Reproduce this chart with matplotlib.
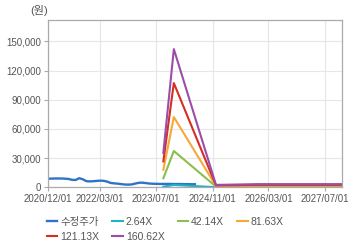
import matplotlib
matplotlib.use('Agg')
import matplotlib.pyplot as plt
import numpy as np
import pandas as pd

plt.rcParams['font.family'] = ['Liberation Sans', 'Noto Sans CJK KR', 'DejaVu Sans']

# adjusted price, monthly
price_dates = pd.date_range('2020-12-01', '2024-06-01', freq='MS')
price = [8700, 8900, 9000, 9000, 9000, 8800, 8500, 7600, 7500, 9300, 8200, 6300,
         6000, 6200, 6500, 6800, 6600, 5800, 4400, 4000, 3700, 3200, 2800, 2700,
         2900, 3800, 4600, 4700, 4300, 3800, 3600, 3500, 3400, 3400, 3400, 3400,
         3300, 3300, 3300, 3200, 3200, 3100, 3100]

# PER band
band_dates = pd.to_datetime(['2023-09-01', '2023-12-01', '2024-12-01',
                             '2025-12-01', '2026-12-01', '2027-12-01'])
eps = [220, 885, 15, 20, 20, 20]
multiples = [2.64, 42.14, 81.63, 121.13, 160.62]
band_labels = ['2.64X', '42.14X', '81.63X', '121.13X', '160.62X']

price_color = '#2f74c4'
band_colors = ['#1fb2c8', '#8cbd4e', '#f6a83c', '#d32f25', '#9b4ea8']

fig = plt.figure(figsize=(3.6, 2.48), dpi=100)
ax = fig.add_axes([0.1325, 0.245, 0.8185, 0.674])

lines = {}
lines['수정주가'], = ax.plot(price_dates, price, color=price_color, lw=1.7)
for m, lab, c in zip(multiples, band_labels, band_colors):
    lines[lab], = ax.plot(band_dates, np.array(eps) * m, color=c, lw=1.5)

ax.set_xlim(pd.Timestamp('2020-12-01'), pd.Timestamp('2027-12-03'))
ax.set_ylim(0, 172000)

xt = pd.to_datetime(['2020-12-01', '2022-03-01', '2023-07-01',
                     '2024-11-01', '2026-03-01', '2027-07-01'])
ax.set_xticks(xt)
ax.set_xticklabels([d.strftime('%Y/%m/%d') for d in xt])
yt = np.arange(0, 150001, 30000)
ax.set_yticks(yt)
ax.set_yticklabels([f'{v:,}' for v in yt])

ax.grid(True, color='#e6e6e6', lw=0.8)
ax.set_axisbelow(True)
for s in ax.spines.values():
    s.set_color('#aaaaaa')
    s.set_linewidth(0.9)
ax.tick_params(colors='#aaaaaa', labelcolor='#555555', labelsize=7, length=3, width=0.8, pad=2)

fig.text(0.085, 0.958, '(원)', fontsize=8, color='#555555', ha='left', va='center')

order = ['수정주가', '121.13X', '2.64X', '160.62X', '42.14X', '81.63X']
fig.legend([lines[k] for k in order], order, ncol=4, loc='upper left',
           bbox_to_anchor=(0.13, 0.125), frameon=False, fontsize=7.5,
           labelcolor='#555555', handlelength=1.0, handletextpad=0.3,
           columnspacing=1.25, labelspacing=0.45, borderpad=0, borderaxespad=0)

fig.savefig('out.png', dpi=100)
